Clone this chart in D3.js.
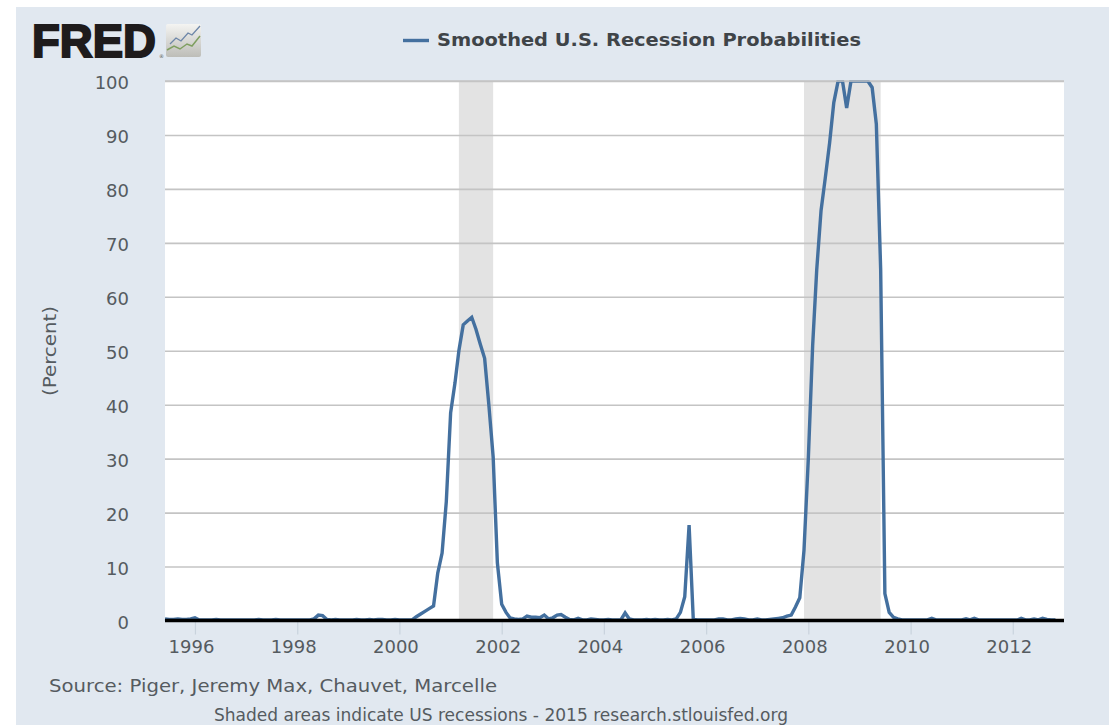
<!DOCTYPE html>
<html><head><meta charset="utf-8">
<script src="https://cdn.jsdelivr.net/npm/d3@7"></script>
<style>html,body{margin:0;padding:0;background:#fff}svg{display:block}text{font-family:"DejaVu Sans",sans-serif}</style>
</head><body><svg id="c" width="1109" height="725"></svg>
<script>
const seriesName = "Smoothed U.S. Recession Probabilities";
const yTicks = [0,10,20,30,40,50,60,70,80,90,100];
const xTickYears = [1996,1998,2000,2002,2004,2006,2008,2010,2012];
const recessions = [["2001-03-01","2001-11-01"],["2007-12-01","2009-06-01"]];
const firstMonth = "1995-06-01";
const probabilities = [
/*1995*/ .3,.2,.2,.3,.2,.2,.3,
/*1996*/ .5,.1,.1,.1,.1,.2,.1,.1,.1,.1,.1,.1,
/*1997*/ .1,.1,.1,.2,.1,.1,.1,.2,.1,.1,.1,.1,
/*1998*/ .1,.1,.1,.1,.3,1.0,.9,.2,.1,.2,.1,.1,
/*1999*/ .1,.1,.2,.1,.1,.2,.1,.2,.2,.1,.1,.2,
/*2000*/ .1,.1,.1,.1,.7,1.2,1.7,2.2,2.7,8.8,12.5,22,
/*2001*/ 38.5,44,50,54.8,55.5,56.2,54,51.2,48.6,40,30.3,10.7,
/*2002*/ 3,1.5,.5,.3,.2,.3,.8,.6,.6,.5,1.0,.3,
/*2003*/ .5,1.0,1.1,.6,.2,.1,.4,.1,.1,.3,.2,.1,
/*2004*/ .1,.2,.1,.1,.1,1.4,.3,.1,.1,.1,.2,.1,
/*2005*/ .2,.1,.1,.2,.1,.3,1.5,4.4,17.7,.2,.1,.1,
/*2006*/ .1,.1,.1,.3,.3,.1,.1,.3,.4,.3,.1,.1,
/*2007*/ .3,.1,.1,.2,.3,.4,.5,.8,1.0,2.5,4.2,13,
/*2008*/ 30,51,65,76,82,88.5,96,100,100,95,100,100,
/*2009*/ 100,100,100,98.8,92,65,5,1.5,.6,.3,.1,.1,
/*2010*/ .1,.1,.1,.1,.1,.4,.1,.1,.1,.1,.1,.1,
/*2011*/ .1,.3,.1,.4,.1,.1,.1,.1,.1,.1,.1,.1,
/*2012*/ .1,.1,.4,.1,.1,.3,.1,.4,.2,.1,.1
];
const svg = d3.select("#c");
const L=165,R=1064,T=81,B=620.5;
const parse = d3.utcParse("%Y-%m-%d");
const start = parse(firstMonth);
const dates = probabilities.map((_,i)=>d3.utcMonth.offset(start,i));
const x = d3.scaleUtc().domain([parse("1995-06-01"),parse("2013-01-01")]).range([L,R]);
const y = d3.scaleLinear().domain([0,100]).range([B,T]);
const ink="#555b60";

svg.append("rect").attr("x",16).attr("y",7).attr("width",1093).attr("height",718).attr("fill","#e1e8f0");
svg.append("rect").attr("x",L).attr("y",T).attr("width",R-L).attr("height",B-T).attr("fill","#fff");
svg.selectAll("rect.rec").data(recessions).join("rect").attr("class","rec")
  .attr("x",d=>x(parse(d[0]))).attr("width",d=>x(parse(d[1]))-x(parse(d[0])))
  .attr("y",T).attr("height",B-T).attr("fill","#e3e3e3");

// grid + y axis
const yAxis = d3.axisLeft(y).tickValues(yTicks).tickSize(-(R-L)).tickPadding(36);
const gy = svg.append("g").attr("transform",`translate(${L},0)`).call(yAxis);
gy.select(".domain").remove();
gy.selectAll("line").attr("stroke","#c4c4c4").attr("stroke-width",1.6);
gy.selectAll("text").attr("font-size",18).attr("fill",ink).attr("dy","0.32em").attr("x",-36).attr("y",2);

// x axis
const xAxis = d3.axisBottom(x).tickValues(xTickYears.map(v=>new Date(Date.UTC(v,0,1)))).tickFormat(d3.utcFormat("%Y")).tickSize(14).tickPadding(6);
const gx = svg.append("g").attr("transform",`translate(0,${B})`).call(xAxis);
gx.select(".domain").remove();
gx.selectAll("line").attr("stroke","#c9d3dd").attr("stroke-width",1.2);
gx.selectAll("text").attr("font-size",18).attr("fill",ink).attr("dx",-4);

// line
const line = d3.line().x((d,i)=>x(dates[i])).y(d=>y(d));
svg.append("path").datum(probabilities).attr("d",line).attr("fill","none")
  .attr("stroke","#44709f").attr("stroke-width",3.4).attr("stroke-linejoin","miter");
svg.append("rect").attr("x",L).attr("y",T-7).attr("width",R-L+5).attr("height",6).attr("fill","#e1e8f0");
svg.append("line").attr("x1",L).attr("x2",R).attr("y1",T).attr("y2",T).attr("stroke","#c4c4c4").attr("stroke-width",1.6);
svg.append("line").attr("x1",L).attr("x2",R).attr("y1",B).attr("y2",B).attr("stroke","#000").attr("stroke-width",3.4);

// titles
svg.append("text").attr("transform","translate(56,351) rotate(-90)").attr("text-anchor","middle")
  .attr("font-size",18).attr("fill",ink).attr("textLength",90).attr("lengthAdjust","spacingAndGlyphs").text("(Percent)");
svg.append("text").attr("x",49).attr("y",692).attr("font-size",17).attr("fill",ink)
  .attr("textLength",448).attr("lengthAdjust","spacingAndGlyphs").text("Source: Piger, Jeremy Max, Chauvet, Marcelle");
svg.append("text").attr("x",214).attr("y",721).attr("font-size",17).attr("fill",ink)
  .attr("textLength",574).attr("lengthAdjust","spacingAndGlyphs").text("Shaded areas indicate US recessions - 2015 research.stlouisfed.org");

// legend
svg.append("line").attr("x1",403).attr("x2",429).attr("y1",40.5).attr("y2",40.5).attr("stroke","#44709f").attr("stroke-width",3.4);
svg.append("text").attr("x",437).attr("y",46).attr("font-size",17.5).attr("font-weight",700).attr("fill","#3f4448")
  .attr("textLength",424).attr("lengthAdjust","spacingAndGlyphs").text(seriesName);

// logo
svg.append("text").attr("x",32).attr("y",56.5).attr("font-size",46).attr("font-weight",700)
  .attr("style",'font-family:"Liberation Sans",sans-serif').attr("fill","#1e1b1c").attr("stroke","#1e1b1c").attr("stroke-width",2)
  .attr("textLength",124).attr("lengthAdjust","spacingAndGlyphs").text("FRED");
const defs = svg.append("defs");
const grad = defs.append("linearGradient").attr("id","lg").attr("x1",0).attr("y1",0).attr("x2",0).attr("y2",1);
grad.append("stop").attr("offset",0).attr("stop-color","#f4f4f2");
grad.append("stop").attr("offset",1).attr("stop-color","#bdbdb8");
svg.append("rect").attr("x",166).attr("y",24).attr("width",35).attr("height",33).attr("rx",2).attr("fill","url(#lg)");
svg.append("path").attr("d","M170 44 L176 38 L181 41 L188 33 L192 35 L200 26").attr("fill","none").attr("stroke","#6d86a8").attr("stroke-width",1.3);
svg.append("path").attr("d","M167 50 L174 46 L180 49 L187 44 L192 46 L200 36").attr("fill","none").attr("stroke","#7f9f60").attr("stroke-width",1.5);
svg.append("text").attr("x",159).attr("y",58).attr("font-size",5).attr("fill","#555").text("®");
</script></body></html>
